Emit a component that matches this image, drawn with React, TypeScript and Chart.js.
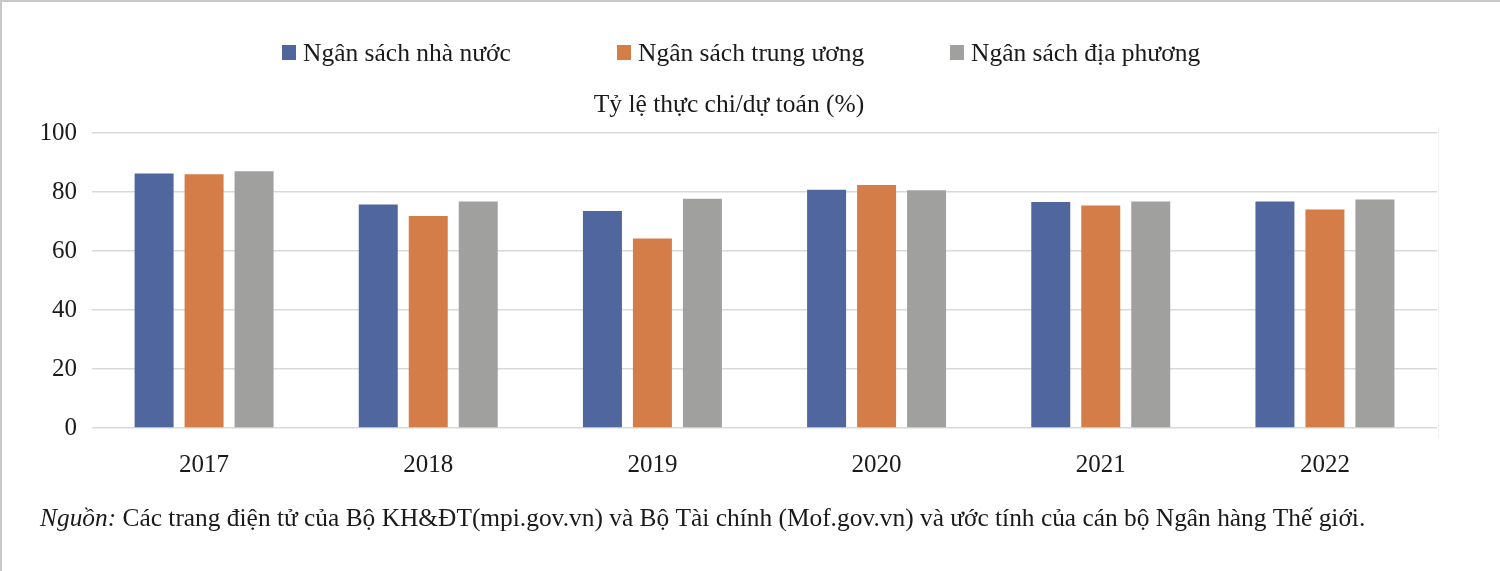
import React, { useEffect, useRef } from "react";
import { Chart, registerables } from "chart.js";

Chart.register(...registerables);

const categories = ["2017", "2018", "2019", "2020", "2021", "2022"];
const stateBudget = [86.3, 75.8, 73.6, 80.8, 76.6, 76.8];
const centralBudget = [86.0, 71.9, 64.2, 82.4, 75.4, 74.1];
const localBudget = [87.0, 76.8, 77.7, 80.6, 76.8, 77.5];
const seriesLabels = ["Ngân sách nhà nước", "Ngân sách trung ương", "Ngân sách địa phương"];
const seriesColors = ["#4F679E", "#D47D48", "#A0A09F"];
const yMin = 0;
const yMax = 100;
const yStep = 20;
const chartTitle = "Tỷ lệ thực chi/dự toán (%)";
const sourceLabel = "Nguồn:";
const sourceText = " Các trang điện tử của Bộ KH&ĐT(mpi.gov.vn) và Bộ Tài chính (Mof.gov.vn) và ước tính của cán bộ Ngân hàng Thế giới.";

const FONT = "'Liberation Serif', 'Times New Roman', serif";
const TEXT_COLOR = "#1a1a1a";

const decorPlugin = {
  id: "decor",
  afterDraw(chart: any) {
    const ctx = chart.ctx as CanvasRenderingContext2D;
    ctx.save();
    // frame lines (top and left)
    ctx.fillStyle = "#c8c8c8";
    ctx.fillRect(0, 0, chart.width, 2);
    ctx.fillRect(0, 0, 2, chart.height);
    // faint right edge of plot
    ctx.fillStyle = "#f2f2f2";
    ctx.fillRect(chart.chartArea.right + 1, chart.chartArea.top - 6, 1, chart.chartArea.bottom - chart.chartArea.top + 16);

    // legend
    const legendX = [282, 617, 950];
    ctx.textBaseline = "alphabetic";
    ctx.textAlign = "left";
    ctx.font = `25.5px ${FONT}`;
    chart.data.datasets.forEach((ds: any, i: number) => {
      ctx.fillStyle = ds.backgroundColor;
      ctx.fillRect(legendX[i], 45, 14, 15);
      ctx.fillStyle = TEXT_COLOR;
      ctx.fillText(ds.label, legendX[i] + 21, 61);
    });

    // title
    ctx.textAlign = "center";
    ctx.font = `25.5px ${FONT}`;
    ctx.fillText(chartTitle, 729, 112);

    // source note
    ctx.textAlign = "left";
    ctx.font = `italic 25.4px ${FONT}`;
    ctx.fillText(sourceLabel, 40, 526);
    const w = ctx.measureText(sourceLabel).width;
    ctx.font = `25.4px ${FONT}`;
    ctx.fillText(sourceText, 40 + w, 526);
    ctx.restore();
  },
};

export default function App() {
  const canvasRef = useRef<HTMLCanvasElement | null>(null);

  useEffect(() => {
    if (!canvasRef.current) return;
    const datasetsValues = [stateBudget, centralBudget, localBudget];
    const chart = new Chart(canvasRef.current, {
      type: "bar",
      data: {
        labels: categories,
        datasets: datasetsValues.map((vals, i) => ({
          label: seriesLabels[i],
          data: vals,
          backgroundColor: seriesColors[i],
          borderWidth: 0,
          categoryPercentage: 0.669,
          barPercentage: 0.78,
        })),
      },
      options: {
        responsive: false,
        animation: false,
        devicePixelRatio: 1,
        layout: { padding: { left: 0, right: 63, top: 133, bottom: 93 } },
        plugins: {
          legend: { display: false },
          title: { display: false },
          tooltip: { enabled: false },
        },
        scales: {
          x: {
            grid: { display: false },
            border: { display: false },
            ticks: {
              color: TEXT_COLOR,
              font: { family: FONT, size: 25 },
              padding: 14,
              maxRotation: 0,
            },
            afterFit: (s: any) => {
              s.height = 50;
            },
          },
          y: {
            min: yMin,
            max: yMax,
            border: { display: false },
            grid: { color: "#d9d9d9", lineWidth: 1.6, drawTicks: false },
            ticks: {
              stepSize: yStep,
              color: TEXT_COLOR,
              font: { family: FONT, size: 25 },
              padding: 15,
            },
            afterFit: (s: any) => {
              s.width = 92;
            },
          },
        },
      },
      plugins: [decorPlugin],
    });
    return () => chart.destroy();
  }, []);

  return (
    <div style={{ position: "absolute", left: 0, top: 0, width: 1500, height: 571, background: "#ffffff" }}>
      <canvas ref={canvasRef} width={1500} height={571} style={{ display: "block" }} />
    </div>
  );
}
